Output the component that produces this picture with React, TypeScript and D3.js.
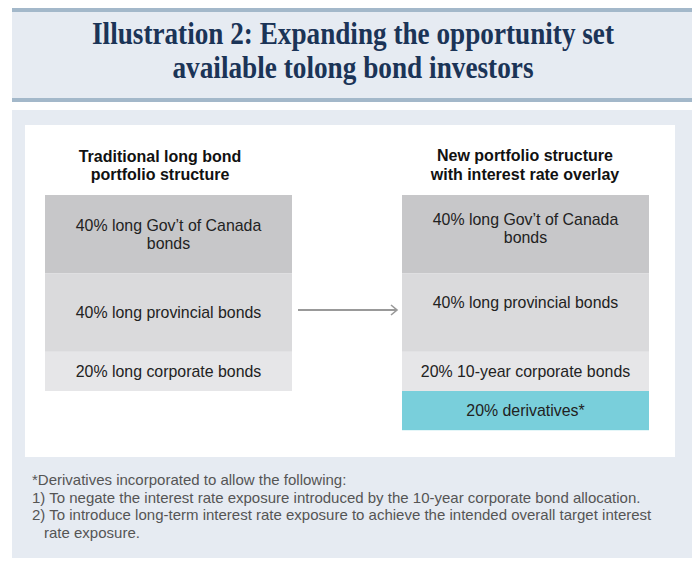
import React from "react";
import * as d3 from "d3";

const titleLines = ["Illustration 2: Expanding the opportunity set", "available tolong bond investors"];
const leftHeader = ["Traditional long bond", "portfolio structure"];
const rightHeader = ["New portfolio structure", "with interest rate overlay"];
const leftValues = [40, 40, 20];
const leftLabels = [["40% long Gov\u2019t of Canada", "bonds"], ["40% long provincial bonds"], ["20% long corporate bonds"]];
const rightValues = [40, 40, 20, 20];
const rightLabels = [["40% long Gov\u2019t of Canada", "bonds"], ["40% long provincial bonds"], ["20% 10-year corporate bonds"], ["20% derivatives*"]];
const footnotes = [
  "*Derivatives incorporated to allow the following:",
  "1) To negate the interest rate exposure introduced by the 10-year corporate bond allocation.",
  "2) To introduce long-term interest rate exposure to achieve the intended overall target interest",
  "rate exposure.",
];

const W = 692, H = 561;
const fills = ["#c7c7c9", "#dadadc", "#e6e6e8", "#79cfdb"];
const rightOffsets = [-6, -10, 0, 0];
const sans = "'Liberation Sans', Arial, sans-serif";

function stack(values: number[]) {
  let acc = 0;
  return values.map((v) => { const s = acc; acc += v; return { s, e: acc, v }; });
}

export default function App() {
  const y = d3.scaleLinear().domain([0, 100]).range([195, 391]);
  const left = stack(leftValues);
  const right = stack(rightValues);
  const lx0 = 45, lx1 = 292, rx0 = 402, rx1 = 649;

  const col = (segs: any[], labels: string[][], x0: number, x1: number, offs: number[], key: string) =>
    segs.map((d, i) => {
      const yc = (y(d.s) + y(d.e)) / 2 + (offs[i] || 0);
      const lines = labels[i];
      const lh = 18.5;
      const first = yc - ((lines.length - 1) * lh) / 2;
      return (
        <g key={key + i}>
          <rect x={x0} y={y(d.s)} width={x1 - x0} height={y(d.e) - y(d.s)} fill={fills[i]} />
          {lines.map((t, j) => (
            <text key={j} x={(x0 + x1) / 2} y={first + j * lh} dy="0.35em" textAnchor="middle"
              fontFamily={sans} fontSize={15.9} fill="#222">{t}</text>
          ))}
        </g>
      );
    });

  return (
    <svg width={W} height={H} style={{ position: "absolute", left: 0, top: 0 }}>
      <rect x={0} y={0} width={W} height={H} fill="#ffffff" />
      {/* title band */}
      <rect x={12} y={10} width={W - 12} height={90} fill="#e6ebf2" />
      <rect x={12} y={8} width={W - 12} height={4} fill="#a3b8ca" />
      <rect x={12} y={98} width={W - 12} height={4} fill="#a3b8ca" />
      {titleLines.map((t, i) => (
        <text key={i} x={353} y={44 + i * 34} textAnchor="middle"
          fontFamily="'Liberation Serif', 'Times New Roman', serif" fontWeight="bold" fontSize={30.5}
          fill="#1b3457" textLength={i === 0 ? 522 : 361} lengthAdjust="spacingAndGlyphs">{t}</text>
      ))}
      {/* body panel */}
      <rect x={12} y={110} width={W - 12} height={448} fill="#e6ebf2" />
      <rect x={25} y={125} width={650} height={332} fill="#ffffff" />
      {leftHeader.map((t, i) => (
        <text key={"lh" + i} x={160} y={162 + i * 18} textAnchor="middle" fontFamily={sans}
          fontWeight="bold" fontSize={16} fill="#111">{t}</text>
      ))}
      {rightHeader.map((t, i) => (
        <text key={"rh" + i} x={525} y={161 + i * 19} textAnchor="middle" fontFamily={sans}
          fontWeight="bold" fontSize={16} fill="#111">{t}</text>
      ))}
      {col(left, leftLabels, lx0, lx1, [], "l")}
      {col(right, rightLabels, rx0, rx1, rightOffsets, "r")}
      {/* arrow */}
      <line x1={298} y1={310} x2={396} y2={310} stroke="#999" strokeWidth={2} />
      <path d="M391,305 L397,310 L391,315" fill="none" stroke="#999" strokeWidth={1.6} />
      {footnotes.map((t, i) => (
        <text key={"f" + i} x={i === 3 ? 44 : 32} y={485 + i * 17.5}
          fontFamily={sans} fontSize={15} fill="#555">{t}</text>
      ))}
    </svg>
  );
}
